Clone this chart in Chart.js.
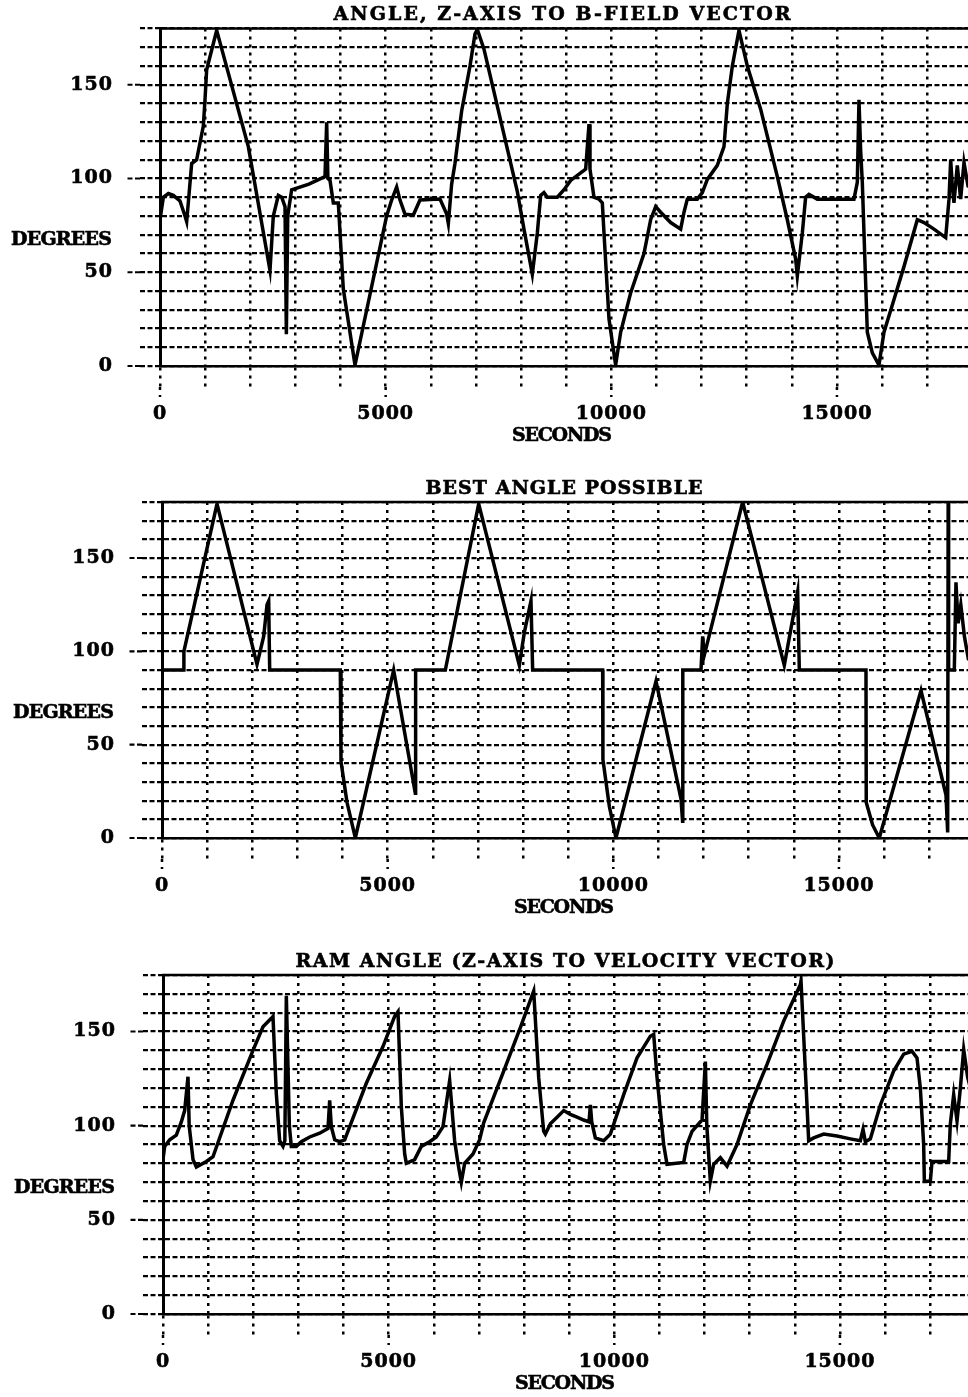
<!DOCTYPE html>
<html>
<head>
<meta charset="utf-8">
<script src="https://cdn.jsdelivr.net/npm/chart.js@4.4.0/dist/chart.umd.min.js"></script>
<style>
  html, body { margin: 0; padding: 0; background: #fff; overflow: hidden; width: 968px; height: 1397px; }
  canvas { position: absolute; left: 0; }
</style>
</head>
<body>
<canvas id="c1" width="1000" height="470" style="top:0px"></canvas>
<canvas id="c2" width="1000" height="470" style="top:474px"></canvas>
<canvas id="c3" width="1000" height="470" style="top:947px"></canvas>
<script>
// panel titles and axis labels
const titles = [
  "ANGLE, Z-AXIS TO B-FIELD VECTOR",
  "BEST ANGLE POSSIBLE",
  "RAM ANGLE (Z-AXIS TO VELOCITY VECTOR)"
];
const xTitle = "SECONDS";
const yTitle = "DEGREES";
const xLabelValues = [0, 5000, 10000, 15000];
const yLabelValues = [0, 50, 100, 150];

// angle z-axis to B-field vector
const bfieldSec = [0, 74, 185, 295, 443, 554, 591, 702, 812, 886, 960, 997, 1034, 1182, 1256, 1957, 2437, 2511, 2622, 2696,
  2770, 2800, 2830, 2917, 3300, 3656, 3693, 3720, 3767, 3841, 3951, 4062, 4321, 5022, 5133, 5244, 5318, 5428, 5613, 5761,
  6204, 6352, 6389, 6462, 6536, 6684, 6869, 6979, 7031, 7179, 7918, 8065, 8250, 8361, 8435, 8508, 8582, 8804, 8952, 9099,
  9321, 9432, 9506, 9528, 9616, 9727, 9801, 9838, 9949, 10096, 10207, 10429, 10724, 10872, 10983, 11094, 11315, 11537, 11611, 11684,
  11906, 12017, 12128, 12349, 12497, 12571, 12682, 12829, 13014, 13309, 13679, 13900, 14085, 14122, 14233, 14306, 14380, 14565, 15377, 15451,
  15488, 15525, 15562, 15599, 15673, 15784, 15931, 16042, 16264, 16485, 16781, 16929, 17150, 17409, 17483, 17520, 17556, 17593, 17667, 17741,
  17815, 17904, 18000];
const bfieldDeg = [78, 90, 92, 91, 88, 80, 77, 108, 110, 119, 128, 142, 158, 172, 179, 117, 51, 80, 91, 90,
  85, 17, 80, 94, 97, 101, 130, 100, 99, 87, 87, 41, 0.5, 80, 88.5, 95.5, 88.5, 81, 80.5, 88.5,
  89, 81, 76, 97, 108, 136, 160, 177, 179.5, 169, 93, 73, 49, 71, 91, 92.5, 90, 90, 94, 99,
  103, 105, 129, 105, 90, 89, 87, 71, 25, 0.5, 18, 39, 60, 78, 85, 82, 76.5, 73, 82, 89,
  89, 92.5, 99.5, 107, 117, 140, 160, 179, 160, 137, 101, 78, 57, 48, 71, 90, 91.5, 89, 89, 98,
  142, 115, 98, 71, 18, 7, 0.5, 18, 35.5, 53, 78, 76.5, 73, 68.5, 89, 110, 96, 87, 107, 89,
  108.5, 96, 95];

// best angle possible
const bestSec = [0, 480, 485, 1219, 2105, 2253, 2327, 2364, 2386, 3951, 3966, 4100, 4284, 5133, 5613, 5620, 6278, 7017, 7918, 8028,
  8176, 8213, 9764, 9770, 9912, 10059, 10946, 11500, 11535, 11540, 11943, 11980, 12017, 12866, 13789, 14085, 14122, 15599, 15605, 15746,
  15894, 16818, 17372, 17409, 17420, 17430, 17556, 17593, 17640, 17700, 17780, 17867, 18000];
const bestDeg = [90, 90, 100, 179, 93, 108, 125, 127, 90, 90, 41, 19, 0, 90, 24, 90, 90, 179, 92.5, 110,
  127, 90, 90, 42, 17, 0, 84, 21, 9, 90, 90, 108, 98, 180, 92.5, 132, 90, 90, 19, 7,
  0, 79, 23, 3, 180, 90, 90, 137, 115, 125, 108, 96, 95];

// ram angle, z-axis to velocity vector
const ramSec = [0, 37, 148, 295, 406, 480, 554, 580, 665, 739, 960, 1108, 1551, 1994, 2216, 2400, 2437, 2511, 2585, 2659,
  2700, 2733, 2800, 2843, 2954, 3065, 3250, 3471, 3656, 3693, 3730, 3804, 3914, 4025, 4505, 4874, 5133, 5207, 5281, 5355,
  5391, 5576, 5724, 5908, 6056, 6204, 6352, 6462, 6536, 6610, 6684, 6869, 7016, 7106, 7549, 7918, 8214, 8325, 8435, 8472,
  8583, 8731, 8879, 9026, 9174, 9322, 9440, 9470, 9500, 9580, 9765, 9913, 10208, 10504, 10799, 10873, 10947, 11094, 11168, 11538,
  11611, 11722, 11944, 12018, 12050, 12128, 12202, 12350, 12498, 12719, 13015, 13384, 13753, 14123, 14137, 14234, 14307, 14418, 14640, 14935,
  15231, 15452, 15511, 15563, 15674, 15895, 16190, 16412, 16597, 16707, 16781, 16855, 16870, 17003, 17040, 17409, 17446, 17520, 17594, 17668,
  17742, 17831, 18000];
const ramDeg = [82, 89, 92.5, 95, 102, 108, 126, 100, 82, 78, 81, 83.5, 113.5, 140, 152.5, 157, 158, 117, 92, 89,
  92, 169, 100, 89, 89, 91.5, 94, 96, 98.5, 113.5, 99.5, 92.5, 91.5, 92.5, 122.5, 142, 158, 160.5, 110, 85,
  80, 82, 89, 91.5, 94, 99.5, 124, 92, 80, 70, 80, 85, 92.5, 101.5, 129, 152, 171.5, 125.5, 97, 95.5,
  101, 104.5, 108, 106, 104.5, 103, 102, 111, 102, 93.5, 92, 95.5, 116.5, 136, 147.5, 148.5, 125.5, 90, 79.5, 80.5,
  90, 97, 103, 134, 100, 70.5, 79.5, 83, 78.5, 90, 111, 132.5, 155.5, 175, 177, 129, 92, 93.5, 95.5, 94.5,
  93, 92, 98, 91.5, 93, 111, 129, 138, 139.5, 136, 120, 90, 70.5, 70.5, 81, 81, 101, 116.5, 102.5, 120,
  140.5, 125.5, 110];

const X_MAX = 18000;
const PX_PER_SEC = 0.04513;
const FAMILY = '"DejaVu Serif"';
const FONT = 'bold 19px ' + FAMILY;
const SPACING = '1px';

// text stretched to a given width with letter spacing, a little heavier
function drawFitted(ctx, text, left, y, width) {
  ctx.letterSpacing = '0px';
  const w0 = ctx.measureText(text).width;
  const s = (width - w0) / (text.length - 1);
  ctx.letterSpacing = s.toFixed(2) + 'px';
  ctx.textAlign = 'left';
  ctx.fillText(text, left, y);
  ctx.strokeText(text, left, y);
}

// titles, solid top edge and the longer tick marks at labelled values
const decor = {
  id: 'decor',
  beforeDraw(chart) {
    chart.ctx.letterSpacing = SPACING;
  },
  afterDraw(chart, args, opts) {
    const { ctx, chartArea: a, scales: { x, y } } = chart;
    ctx.save();
    ctx.strokeStyle = '#000';
    ctx.lineWidth = 2.5;
    ctx.beginPath();
    ctx.moveTo(a.left - 1, a.top);
    ctx.lineTo(a.right, a.top);
    ctx.stroke();

    ctx.lineWidth = 2.2;
    ctx.setLineDash([5, 2.5]);
    yLabelValues.forEach(v => {
      const py = y.getPixelForValue(v);
      ctx.beginPath();
      ctx.moveTo(a.left - 20, py);
      ctx.lineTo(a.left - 33, py);
      ctx.stroke();
    });
    ctx.lineWidth = 2.5;
    ctx.setLineDash([3, 5]);
    xLabelValues.forEach(v => {
      const px = x.getPixelForValue(v);
      ctx.beginPath();
      ctx.moveTo(px, a.bottom + 21);
      ctx.lineTo(px, a.bottom + 31);
      ctx.stroke();
    });

    ctx.setLineDash([]);
    ctx.font = FONT;
    ctx.fillStyle = '#000';
    ctx.lineWidth = 0.6;
    ctx.textBaseline = 'middle';
    const cx = a.left + 402;
    drawFitted(ctx, opts.title, cx - opts.titleWidth / 2, a.top - 13, opts.titleWidth);
    drawFitted(ctx, xTitle, cx - 50, a.bottom + 70, 100);
    drawFitted(ctx, yTitle, a.left - 149, y.getPixelForValue(67), 101);
    ctx.restore();
  }
};

function makePanel(id, title, titleWidth, secs, degs, x0, plotTop, plotBottom) {
  const canvas = document.getElementById(id);
  const W = canvas.width, H = canvas.height;
  const plotRight = x0 + X_MAX * PX_PER_SEC;
  const points = secs.map((s, i) => ({ x: s, y: degs[i] }));
  const tickFont = { family: FAMILY, weight: 'bold', size: 19 };

  const chart = new Chart(canvas, {
    type: 'line',
    data: {
      datasets: [{
        data: points,
        borderColor: '#000',
        borderWidth: 3.5,
        pointRadius: 0,
        tension: 0,
        fill: false,
      }],
    },
    options: {
      responsive: false,
      animation: false,
      devicePixelRatio: 1,
      layout: { padding: { top: plotTop, left: 0, right: W - plotRight, bottom: 0 } },
      plugins: {
        legend: { display: false },
        tooltip: { enabled: false },
        decor: { title: title, titleWidth: titleWidth },
      },
      scales: {
        x: {
          type: 'linear',
          min: 0,
          max: X_MAX,
          afterFit: s => { s.height = H - plotBottom; s.paddingLeft = 0; s.paddingRight = 0; },
          ticks: {
            stepSize: 1000,
            autoSkip: false,
            maxRotation: 0,
            padding: 16,
            color: '#000',
            textStrokeColor: '#000',
            textStrokeWidth: 0.6,
            font: tickFont,
            callback: v => xLabelValues.includes(v) ? String(v) : '',
          },
          grid: { color: '#000', lineWidth: 2.5, tickLength: 21, tickBorderDash: [3, 5] },
          border: { display: true, color: '#000', width: 2.5, dash: [3, 5] },
        },
        y: {
          min: 0,
          max: 180,
          afterFit: s => { s.width = x0; s.paddingTop = 0; s.paddingBottom = 0; },
          ticks: {
            stepSize: 10,
            autoSkip: false,
            padding: 27,
            color: '#000',
            textStrokeColor: '#000',
            textStrokeWidth: 0.6,
            font: tickFont,
            callback: v => yLabelValues.includes(v) ? String(v) : '',
          },
          grid: { color: '#000', lineWidth: 2.2, tickLength: 20, tickBorderDash: [5, 2.5] },
          border: { display: true, color: '#000', width: 3, dash: [5, 2.5] },
        },
      },
    },
    plugins: [decor],
  });

  // nudge the padding so the plot box lands where the reference has it
  for (let k = 0; k < 3; k++) {
    const a = chart.chartArea;
    const dx = a.right - plotRight;
    const dy = a.top - plotTop;
    if (Math.abs(dx) < 0.3 && Math.abs(dy) < 0.3) break;
    chart.options.layout.padding.right += dx;
    chart.options.layout.padding.top -= dy;
    chart.update();
  }
  return chart;
}

makePanel('c1', titles[0], 457, bfieldSec, bfieldDeg, 160, 28.5, 366);
makePanel('c2', titles[1], 277, bestSec, bestDeg, 162, 28, 364);
makePanel('c3', titles[2], 539, ramSec, ramDeg, 163, 28, 367);
</script>
</body>
</html>
